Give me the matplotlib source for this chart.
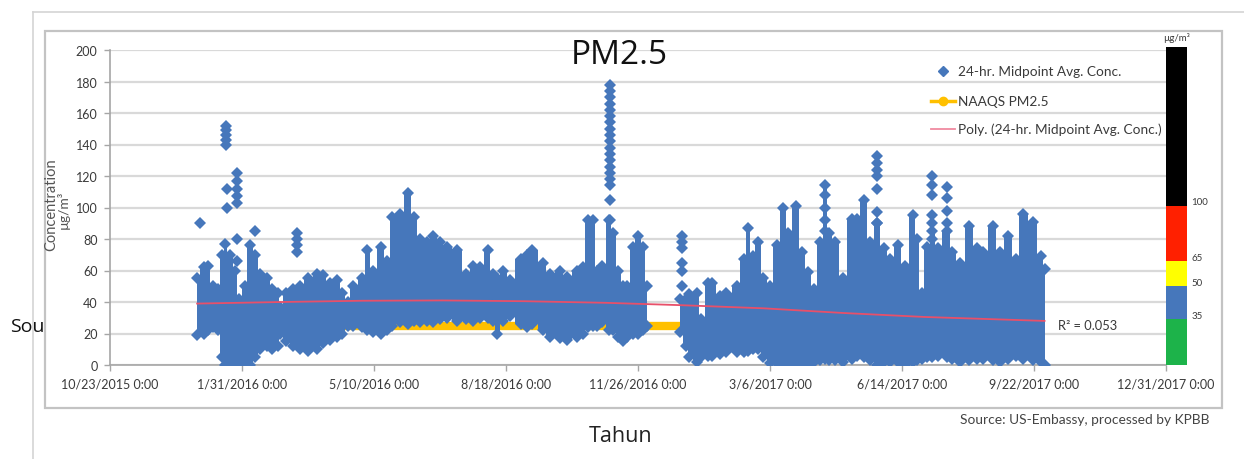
import matplotlib
matplotlib.use('Agg')
import matplotlib.pyplot as plt
import matplotlib.transforms as mtransforms
from matplotlib.lines import Line2D
from matplotlib.patches import Rectangle
import pandas as pd

# ---------------- data ----------------
seg1_dates = ['2015-12-28', '2016-01-02', '2016-01-05', '2016-01-09', '2016-01-13', '2016-01-16',
              '2016-01-18', '2016-01-22', '2016-01-26', '2016-01-29', '2016-02-02', '2016-02-06',
              '2016-02-10', '2016-02-14', '2016-02-19', '2016-02-23', '2016-02-27', '2016-02-29',
              '2016-03-04', '2016-03-10', '2016-03-15', '2016-03-21', '2016-03-28', '2016-04-01',
              '2016-04-07', '2016-04-12', '2016-04-16', '2016-04-20', '2016-04-24', '2016-05-01',
              '2016-05-05', '2016-05-09', '2016-05-15', '2016-05-20', '2016-05-24', '2016-05-30',
              '2016-06-05', '2016-06-09', '2016-06-14', '2016-06-19', '2016-06-24', '2016-06-29',
              '2016-07-04', '2016-07-12', '2016-07-19', '2016-07-24', '2016-07-29', '2016-08-04',
              '2016-08-08', '2016-08-11', '2016-08-16', '2016-08-21', '2016-08-29', '2016-09-03',
              '2016-09-07', '2016-09-15', '2016-09-20', '2016-09-28', '2016-10-03', '2016-10-11',
              '2016-10-15', '2016-10-19', '2016-10-23', '2016-10-26', '2016-10-30', '2016-11-04',
              '2016-11-07', '2016-11-11', '2016-11-15', '2016-11-18', '2016-11-22', '2016-11-26',
              '2016-11-30', '2016-12-03']
seg1_low = [19, 20, 22, 24, 22, 5, 0, 0, 2, 2, 0, 0,
            5, 10, 12, 10, 12, 20, 15, 12, 10, 9, 10, 14,
            16, 18, 20, 25, 25, 24, 22, 21, 20, 22, 25, 27,
            26, 28, 27, 28, 27, 29, 30, 28, 29, 28, 30, 30,
            28, 20, 28, 31, 26, 24, 26, 22, 18, 17, 16, 18,
            20, 24, 25, 25, 27, 22, 22, 18, 15, 18, 20, 20,
            22, 25]
seg1_high = [55, 62, 63, 50, 48, 70, 77, 70, 60, 42, 50, 76,
             70, 58, 55, 48, 46, 37, 46, 48, 50, 55, 58, 57,
             52, 54, 46, 40, 50, 55, 73, 60, 75, 66, 94, 96,
             109, 94, 80, 78, 82, 78, 75, 73, 58, 63, 62, 73,
             58, 55, 60, 54, 67, 70, 73, 65, 58, 60, 56, 60,
             62, 92, 92, 60, 63, 92, 84, 60, 50, 50, 75, 82,
             75, 50]

seg2_dates = ['2016-12-28', '2017-01-01', '2017-01-04', '2017-01-10', '2017-01-13', '2017-01-18',
              '2017-01-21', '2017-01-27', '2017-02-01', '2017-02-09', '2017-02-14', '2017-02-17',
              '2017-02-21', '2017-02-25', '2017-03-01', '2017-03-06', '2017-03-11', '2017-03-16',
              '2017-03-20', '2017-03-26', '2017-03-30', '2017-04-04', '2017-04-08', '2017-04-13',
              '2017-04-17', '2017-04-20', '2017-04-24', '2017-04-30', '2017-05-07', '2017-05-11',
              '2017-05-16', '2017-05-21', '2017-05-26', '2017-05-31', '2017-06-05', '2017-06-11',
              '2017-06-16', '2017-06-22', '2017-06-25', '2017-06-29', '2017-07-03', '2017-07-07',
              '2017-07-11', '2017-07-18', '2017-07-22', '2017-07-28', '2017-08-04', '2017-08-10',
              '2017-08-14', '2017-08-22', '2017-08-27', '2017-09-02', '2017-09-08', '2017-09-14',
              '2017-09-21', '2017-09-27', '2017-09-30']
seg2_low = [21, 12, 5, 2, 5, 6, 6, 7, 8, 8, 8, 9,
            10, 10, 5, 1, 1, 0, 0, 0, 0, 0, 2, 3,
            4, 3, 3, 2, 4, 6, 5, 3, 0, 2, 2, 2,
            0, 2, 3, 4, 5, 5, 6, 5, 4, 2, 3, 4,
            4, 3, 2, 4, 6, 4, 3, 2, 0]
seg2_high = [42, 42, 45, 46, 29, 52, 52, 44, 46, 50, 67, 87,
             69, 78, 55, 50, 76, 100, 84, 101, 72, 59, 48, 78,
             114, 84, 78, 55, 93, 93, 105, 78, 90, 74, 67, 76,
             63, 95, 80, 46, 75, 85, 74, 85, 72, 65, 88, 74,
             72, 88, 72, 82, 67, 96, 91, 69, 61]

spike_dates = (['2015-12-30'] +
               ['2016-01-19'] * 5 + ['2016-01-20'] * 2 + ['2016-01-27'] * 7 +
               ['2016-02-10'] + ['2016-03-13'] * 4 +
               ['2016-11-05'] * 19 +
               ['2016-12-29'] * 6 + ['2017-04-17'] * 4 +
               ['2017-05-26'] * 7 + ['2017-07-07'] * 6 + ['2017-07-18'] * 4)
spike_vals = ([90] +
              [140, 143, 146, 149, 152] + [112, 100] + [122, 117, 112, 107, 103, 80, 66] +
              [85] + [72, 76, 80, 84] +
              [178, 174, 170, 166, 162, 158, 154, 150, 146, 142, 138, 134, 130, 126, 122, 118, 114, 105, 92] +
              [82, 78, 74, 65, 60, 50] + [108, 100, 92, 85] +
              [133, 128, 124, 120, 112, 97, 90] + [120, 114, 108, 95, 90, 80] + [113, 106, 98, 90])

trend_dates = ['2015-12-28', '2016-03-01', '2016-05-01', '2016-07-01', '2016-09-01', '2016-11-01',
               '2016-12-28', '2017-03-01', '2017-05-01', '2017-07-01', '2017-09-30']
trend_vals = [39, 40, 40.8, 41, 40.5, 39.5, 38, 36, 33, 30.5, 28]

naaqs_dates = ['2016-01-01', '2016-12-31']
naaqs_vals = [25, 25]

xtick_dates = ['2015-10-23', '2016-01-31', '2016-05-10', '2016-08-18', '2016-11-26',
               '2017-03-06', '2017-06-14', '2017-09-22', '2017-12-31']
ytick_vals = [0, 20, 40, 60, 80, 100, 120, 140, 160, 180, 200]

band_edges = [0, 29, 50, 66, 101, 202]
band_colors = ['#1db34a', '#4677bb', '#ffff00', '#ff2000', '#000000']
band_labels = ['35', '50', '65', '100']

r2_text = 'R² = 0.053'

# ---------------- styling ----------------
BLUE = '#4677bb'
YELLOW = '#ffc000'
PINK = '#e8506a'
GRID = '#d9d9d9'
AX = '#a6a6a6'
TXT = '#3a3a3a'
TICKFONT = 'Lato'

W, H = 1244, 460
fig = plt.figure(figsize=(W / 100, H / 100), dpi=100)
fig.patch.set_facecolor('white')

def fx(px):
    return px / W

def fy(py):
    return 1 - py / H

# outer image frame and inner chart border
fig.add_artist(Line2D([fx(33), 1.0], [fy(12.5), fy(12.5)], color='#d4d4d4', lw=1.2))
fig.add_artist(Line2D([fx(33), fx(33)], [fy(12.5), 0.0], color='#d4d4d4', lw=1.2))
fig.add_artist(Rectangle((fx(45), fy(408.5)), fx(1222) - fx(45), fy(32) - fy(408.5),
                         transform=fig.transFigure, fill=False, edgecolor='#c3c3c3', lw=1.6))

ax = fig.add_axes([fx(110), fy(366), fx(1166) - fx(110), fy(51) - fy(366)])
ax.set_facecolor('none')

d1 = pd.to_datetime(seg1_dates)
d2 = pd.to_datetime(seg2_dates)
ds = pd.to_datetime(spike_dates)

# NAAQS line (under data)
ax.plot(pd.to_datetime(naaqs_dates), naaqs_vals, color=YELLOW, lw=6, solid_capstyle='butt', zorder=2)

# dense blue scatter cloud: envelope filled + diamond edges
for d, lo, hi in ((d1, seg1_low, seg1_high), (d2, seg2_low, seg2_high)):
    ax.fill_between(d, lo, hi, step='mid', color=BLUE, lw=0, zorder=3)
    ax.plot(d, hi, ls='none', marker='D', ms=6.5, color=BLUE, mew=0, zorder=3)
    ax.plot(d, lo, ls='none', marker='D', ms=6.5, color=BLUE, mew=0, zorder=3)
ax.plot(ds, spike_vals, ls='none', marker='D', ms=6.5, color=BLUE, mew=0, zorder=3)

# polynomial trend
ax.plot(pd.to_datetime(trend_dates), trend_vals, color=PINK, lw=1.3, zorder=4)

# axes
xt = pd.to_datetime(xtick_dates)
ax.set_xlim(xt[0], xt[-1])
ax.set_ylim(0, 200)
ax.set_xticks(xt)
ax.set_xticklabels([f'{t.month}/{t.day}/{t.year} 0:00' for t in xt])
ax.set_yticks(ytick_vals)
ax.set_yticklabels([str(v) for v in ytick_vals])
for t in ax.get_xticklabels() + ax.get_yticklabels():
    t.set_family(TICKFONT)
    t.set_fontsize(9)
    t.set_color(TXT)
ax.tick_params(axis='x', length=4, width=1, color=AX, pad=5)
ax.tick_params(axis='y', length=4, width=1, color=AX, pad=5)
ax.grid(axis='y', color=GRID, lw=1.6, zorder=0)
ax.set_axisbelow(True)
for s in ('top', 'right'):
    ax.spines[s].set_visible(False)
for s in ('left', 'bottom'):
    ax.spines[s].set_color(AX)
    ax.spines[s].set_linewidth(1.2)

# legend (manual)
leg_font = dict(family=TICKFONT, fontsize=9.8, color=TXT, va='center', transform=ax.transAxes)
ax.plot([0.789], [0.933], transform=ax.transAxes, marker='D', ms=5, color=BLUE, ls='none', clip_on=False)
ax.text(0.803, 0.933, '24-hr. Midpoint Avg. Conc.', **leg_font)
ax.plot([0.777, 0.800], [0.838, 0.838], transform=ax.transAxes, color=YELLOW, lw=2.5, clip_on=False)
ax.plot([0.7885], [0.838], transform=ax.transAxes, marker='o', ms=6, color=YELLOW, ls='none', clip_on=False)
ax.text(0.803, 0.838, 'NAAQS PM2.5', **leg_font)
ax.plot([0.777, 0.800], [0.749, 0.749], transform=ax.transAxes, color='#f08aa0', lw=1.3, clip_on=False)
ax.text(0.803, 0.749, 'Poly. (24-hr. Midpoint Avg. Conc.)', **leg_font)

ax.text(0.898, 0.127, r2_text, family=TICKFONT, fontsize=9.3, color=TXT, va='center',
        transform=ax.transAxes)

# colour scale bar
cb = fig.add_axes([fx(1166), fy(366), fx(1187) - fx(1166), fy(48) - fy(366)])
cb.set_xlim(0, 1)
cb.set_ylim(0, (366 - 48) / 1.575)
for i, c in enumerate(band_colors):
    cb.bar(0.5, band_edges[i + 1] - band_edges[i], bottom=band_edges[i], width=1, color=c, lw=0)
cb.axis('off')
btr = mtransforms.blended_transform_factory(cb.transAxes, cb.transData)
for e, lab in zip(band_edges[1:5], band_labels):
    cb.text(1.2, e + 2.5, lab, transform=btr, family=TICKFONT, fontsize=7, color=TXT, va='center')
fig.text(fx(1177), fy(38), 'µg/m³', family=TICKFONT, fontsize=7, color=TXT, ha='center', va='center')

# titles and labels
fig.text(fx(619), fy(56), 'PM2.5', family='Open Sans', fontsize=24, color='#111111', ha='center', va='center')
fig.text(fx(621), fy(437), 'Tahun', family='Open Sans', fontsize=15.5, color='#222222', ha='center', va='center')
fig.text(fx(1210), fy(420), 'Source: US-Embassy, processed by KPBB', family=TICKFONT, fontsize=9.9,
         color='#444444', ha='right', va='center')
fig.text(fx(10), fy(327), 'Sou', family='Open Sans', fontsize=14, color='#111111', ha='left', va='center')
fig.text(fx(51), fy(205), 'Concentration', family=TICKFONT, fontsize=10.5, color='#555555', rotation=90,
         ha='center', va='center')
fig.text(fx(63), fy(210), 'µg/m³', family=TICKFONT, fontsize=10, color='#555555', rotation=90,
         ha='center', va='center')

fig.savefig('out.png', dpi=100)
